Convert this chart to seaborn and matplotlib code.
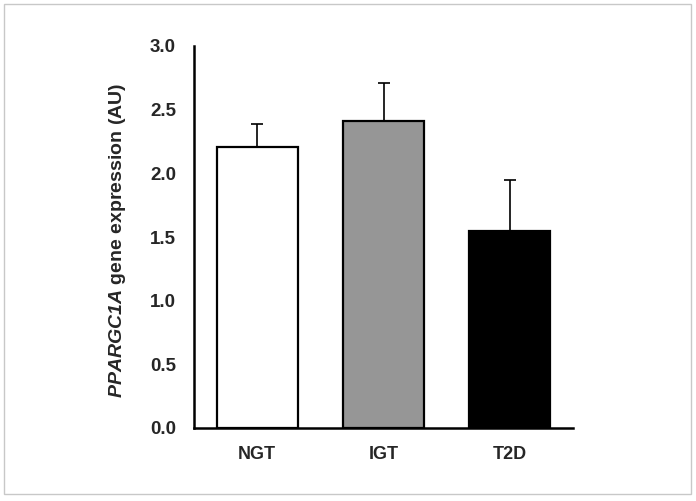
import matplotlib
matplotlib.use('Agg')
import matplotlib.pyplot as plt
import seaborn as sns
import pandas as pd
from matplotlib.patches import Rectangle

groups = ['NGT', 'IGT', 'T2D']
means = [2.21, 2.41, 1.55]
sem = [0.18, 0.30, 0.40]
colors = ['#ffffff', '#969696', '#000000']
yticks = [0.0, 0.5, 1.0, 1.5, 2.0, 2.5, 3.0]

sns.set_style('white')
plt.rcParams['font.family'] = ['Liberation Sans', 'DejaVu Sans']
plt.rcParams['mathtext.fontset'] = 'custom'
plt.rcParams['mathtext.bfit'] = 'Liberation Sans:italic:bold'

df = pd.DataFrame({'group': groups, 'value': means})

fig = plt.figure(figsize=(6.96, 5.01), dpi=100)
ax = fig.add_axes([194 / 696, 1 - 428 / 501, (573 - 194) / 696, (428 - 46) / 501])

sns.barplot(data=df, x='group', y='value', hue='group', palette=colors,
            order=groups, hue_order=groups, legend=False, errorbar=None,
            width=0.64, edgecolor='black', linewidth=1.6, ax=ax, zorder=3)
ax.errorbar(range(len(groups)), means, yerr=[[0] * len(groups), sem], fmt='none',
            ecolor='black', elinewidth=1.2, capsize=4.5, capthick=1.2, zorder=2)

ax.set_ylim(0, 3.0)
ax.set_xlim(-0.5, 2.5)
ax.set_yticks(yticks)
ax.set_yticklabels([f'{t:.1f}' for t in yticks], fontsize=13.5, fontweight='bold')
ax.set_xticks([-0.5, 0.5, 1.5, 2.5])
ax.set_xticklabels([])
ax.set_xticks(range(len(groups)), minor=True)
ax.set_xticklabels(groups, minor=True, fontsize=13, fontweight='bold')
ax.tick_params(axis='x', which='minor', length=0, pad=13)
ax.tick_params(axis='x', which='major', direction='out', length=3, width=1.8, color='black')
ax.tick_params(axis='y', direction='out', length=3, width=1.8, color='black', pad=10)
ax.set_xlabel('')
ax.set_ylabel(r'$\mathbfit{PPARGC1A}$ gene expression (AU)', fontsize=14,
              fontweight='bold')
ax.yaxis.set_label_coords(-0.175, 0.49)

sns.despine(ax=ax)
for side in ['left', 'bottom']:
    ax.spines[side].set_linewidth(1.8)
    ax.spines[side].set_color('black')

fig.patches.append(Rectangle((4 / 696, 1 - 494 / 501), 687 / 696, 490 / 501,
                             transform=fig.transFigure, fill=False,
                             edgecolor='#c8c8c8', linewidth=1.0))

fig.savefig('out.png', dpi=100)
